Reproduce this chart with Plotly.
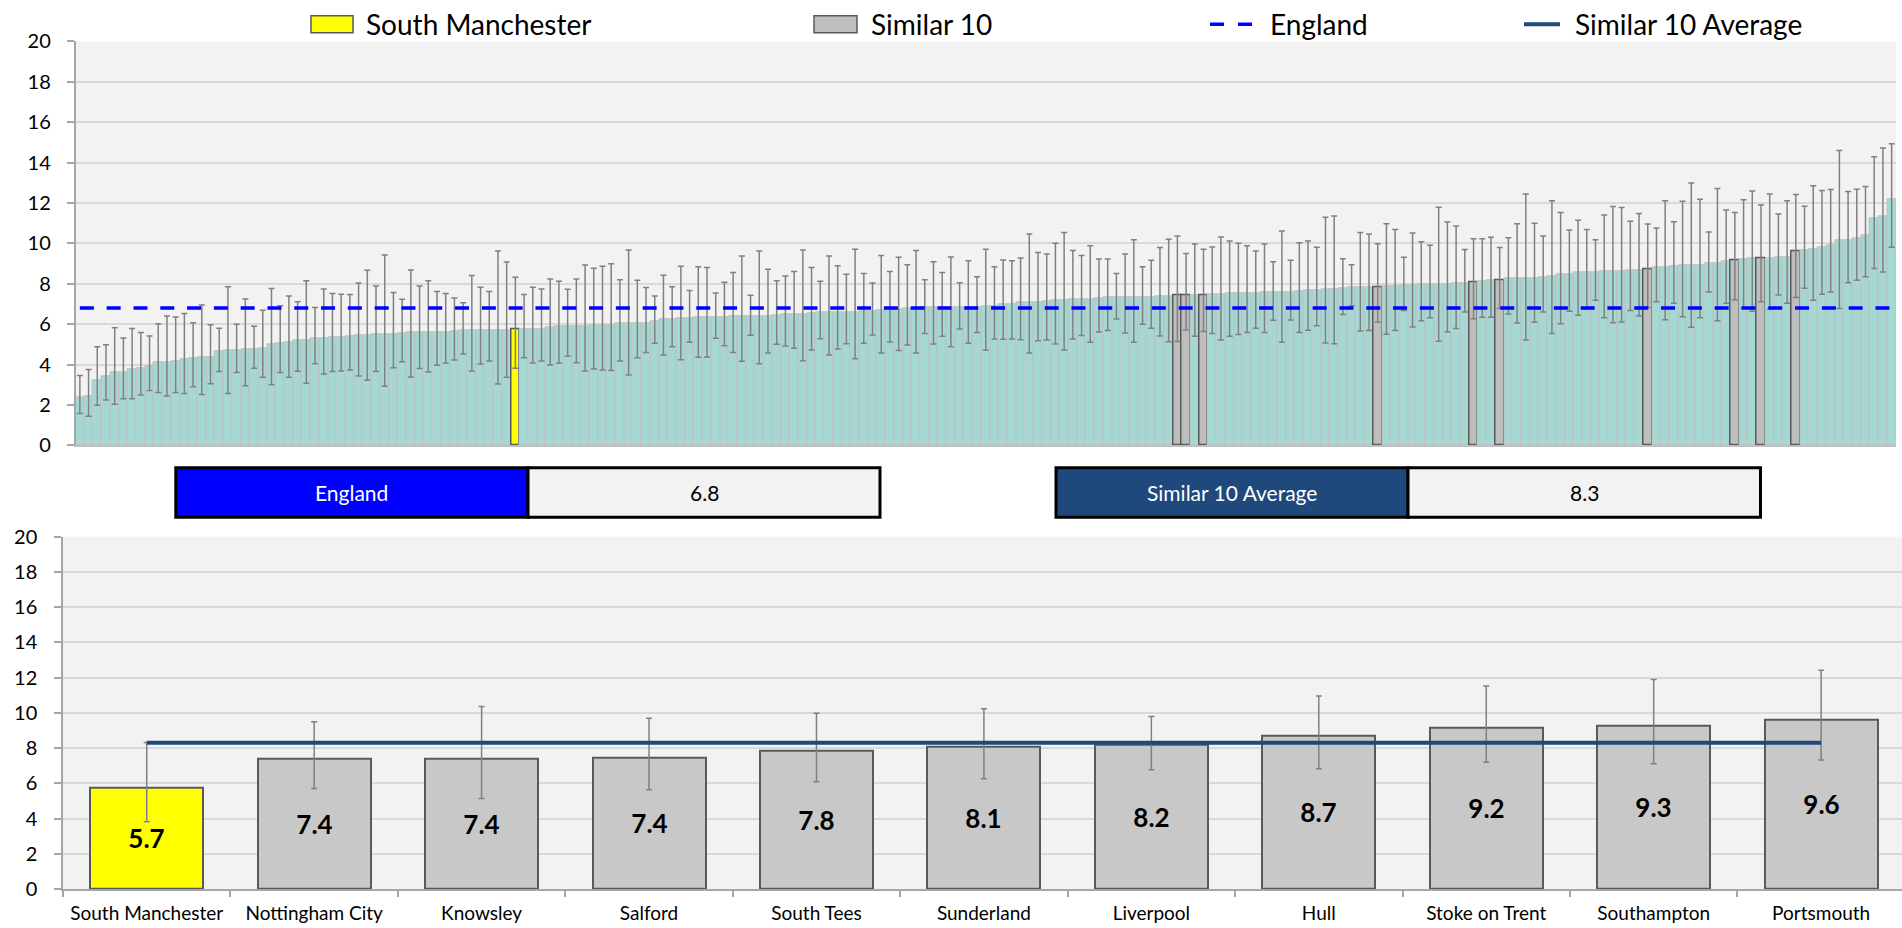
import plotly.graph_objects as go

# ---------------- data ----------------
# Top chart: all areas ranked by value (rate), with 95% confidence limits
top_values = [
    2.38, 2.41, 3.22, 3.43, 3.60, 3.61, 3.78, 3.81, 3.91, 4.09,
    4.09, 4.17, 4.26, 4.31, 4.36, 4.37, 4.64, 4.70, 4.70, 4.75,
    4.75, 4.80, 5.00, 5.07, 5.12, 5.20, 5.20, 5.30, 5.31, 5.33,
    5.35, 5.38, 5.43, 5.46, 5.48, 5.50, 5.51, 5.54, 5.59, 5.59,
    5.59, 5.61, 5.61, 5.63, 5.68, 5.69, 5.69, 5.69, 5.71, 5.71,
    5.73, 5.73, 5.74, 5.76, 5.86, 5.87, 5.89, 5.89, 5.89, 5.92,
    5.94, 5.96, 6.02, 6.04, 6.05, 6.06, 6.16, 6.22, 6.25, 6.29,
    6.30, 6.34, 6.34, 6.35, 6.35, 6.37, 6.37, 6.39, 6.39, 6.40,
    6.44, 6.47, 6.47, 6.50, 6.53, 6.57, 6.58, 6.58, 6.58, 6.60,
    6.63, 6.65, 6.68, 6.70, 6.73, 6.77, 6.78, 6.82, 6.83, 6.83,
    6.83, 6.83, 6.85, 6.85, 6.88, 6.90, 7.00, 7.00, 7.06, 7.06,
    7.10, 7.11, 7.16, 7.19, 7.21, 7.21, 7.21, 7.26, 7.31, 7.31,
    7.31, 7.31, 7.33, 7.34, 7.36, 7.38, 7.41, 7.41, 7.43, 7.44,
    7.46, 7.48, 7.51, 7.51, 7.52, 7.54, 7.56, 7.57, 7.57, 7.57,
    7.61, 7.67, 7.67, 7.72, 7.74, 7.76, 7.81, 7.82, 7.84, 7.84,
    7.87, 7.87, 7.92, 7.94, 7.95, 7.95, 7.97, 7.99, 8.02, 8.04,
    8.07, 8.14, 8.16, 8.18, 8.25, 8.27, 8.27, 8.28, 8.33, 8.37,
    8.45, 8.47, 8.56, 8.56, 8.58, 8.60, 8.61, 8.61, 8.65, 8.67,
    8.70, 8.81, 8.83, 8.86, 8.89, 8.91, 8.91, 9.01, 9.01, 9.09,
    9.16, 9.21, 9.24, 9.26, 9.27, 9.29, 9.31, 9.59, 9.64, 9.72,
    9.80, 9.88, 10.13, 10.15, 10.25, 10.40, 11.25, 11.34, 12.18,
]
top_lower = [
    1.58, 1.44, 1.98, 2.24, 2.03, 2.31, 2.31, 2.49, 2.71, 2.62,
    2.44, 2.61, 2.56, 2.90, 2.51, 3.05, 3.65, 2.56, 3.60, 2.95,
    3.81, 3.37, 3.00, 3.60, 3.37, 3.66, 3.07, 4.04, 3.53, 3.65,
    3.68, 3.73, 3.43, 3.22, 3.65, 2.92, 3.84, 4.14, 3.38, 3.80,
    3.63, 3.96, 4.08, 4.22, 4.52, 3.68, 4.03, 4.17, 3.04, 3.37,
    3.82, 4.34, 4.08, 4.17, 3.98, 4.06, 4.41, 4.09, 3.68, 3.78,
    3.73, 3.70, 4.17, 3.48, 4.34, 4.59, 5.05, 4.47, 4.88, 4.24,
    5.10, 4.36, 4.37, 5.30, 4.93, 4.60, 4.16, 5.45, 4.04, 4.57,
    5.00, 4.92, 4.80, 4.19, 4.72, 5.28, 4.47, 4.77, 5.03, 4.29,
    5.05, 5.46, 4.57, 5.12, 4.69, 4.97, 4.57, 5.53, 5.02, 5.40,
    4.88, 5.76, 5.05, 5.59, 4.70, 5.26, 5.25, 5.26, 5.23, 4.57,
    5.17, 5.21, 5.02, 4.72, 5.26, 5.43, 5.10, 5.61, 5.68, 6.25,
    5.56, 5.10, 5.99, 5.79, 5.41, 5.13, 5.14, 5.71, 5.40, 5.63,
    5.53, 5.21, 5.40, 5.48, 5.58, 5.79, 5.58, 6.19, 5.10, 6.20,
    5.59, 5.69, 5.92, 5.07, 5.03, 6.47, 6.91, 5.66, 5.68, 6.09,
    5.50, 5.68, 6.67, 5.86, 6.17, 6.32, 5.15, 5.61, 5.78, 6.60,
    6.26, 6.34, 6.34, 6.77, 6.50, 6.06, 5.21, 6.09, 6.60, 5.53,
    6.02, 6.63, 6.44, 6.75, 7.18, 6.32, 6.07, 6.11, 6.67, 6.40,
    6.82, 7.11, 6.22, 7.03, 6.37, 5.84, 6.32, 7.59, 6.17, 7.03,
    7.20, 6.78, 6.63, 7.11, 6.75, 7.44, 7.03, 7.32, 7.77, 7.18,
    7.48, 7.59, 6.77, 8.05, 8.17, 8.35, 8.75, 8.58, 9.80,
]
top_upper = [
    3.45, 3.75, 4.88, 4.98, 5.82, 5.31, 5.78, 5.58, 5.41, 6.02,
    6.40, 6.35, 6.53, 6.07, 6.95, 5.97, 5.79, 7.85, 5.99, 7.24,
    5.89, 6.68, 7.76, 6.91, 7.39, 7.11, 8.15, 6.82, 7.74, 7.52,
    7.48, 7.46, 8.04, 8.66, 7.89, 9.42, 7.56, 7.23, 8.68, 7.89,
    8.15, 7.61, 7.51, 7.29, 7.06, 8.40, 7.82, 7.61, 9.62, 9.08,
    8.32, 7.46, 7.82, 7.74, 8.23, 8.12, 7.72, 8.23, 8.93, 8.76,
    8.86, 8.99, 8.20, 9.67, 8.17, 7.81, 7.39, 8.42, 7.85, 8.86,
    7.66, 8.84, 8.80, 7.54, 8.07, 8.56, 9.37, 7.43, 9.62, 8.71,
    8.14, 8.38, 8.61, 9.67, 8.80, 8.12, 9.37, 8.89, 8.47, 9.70,
    8.50, 8.04, 9.39, 8.60, 9.31, 8.94, 9.64, 8.20, 9.09, 8.55,
    9.32, 8.05, 9.14, 8.35, 9.70, 8.84, 9.17, 9.13, 9.27, 10.46,
    9.54, 9.47, 10.00, 10.53, 9.64, 9.39, 9.88, 9.22, 9.22, 8.50,
    9.47, 10.17, 8.84, 9.16, 9.79, 10.20, 10.36, 9.49, 9.97, 9.70,
    9.82, 10.31, 10.12, 10.00, 9.88, 9.62, 9.97, 9.09, 10.61, 9.16,
    10.03, 10.12, 9.80, 11.29, 11.35, 9.24, 8.94, 10.53, 10.46, 9.98,
    10.97, 10.68, 9.31, 10.51, 10.08, 9.90, 11.78, 11.06, 10.86, 9.69,
    10.23, 10.23, 10.30, 9.79, 10.28, 10.97, 12.44, 10.99, 10.36, 12.11,
    11.53, 10.66, 11.14, 10.68, 10.18, 11.40, 11.82, 11.77, 11.09, 11.48,
    10.95, 10.76, 12.11, 11.07, 12.08, 12.99, 12.18, 10.56, 12.71, 11.65,
    11.53, 12.15, 12.59, 11.89, 12.44, 11.45, 12.11, 12.42, 11.83, 12.85,
    12.62, 12.66, 14.59, 12.56, 12.67, 12.81, 14.29, 14.72, 14.93,
]

# Bottom chart: selected area and its 10 most similar areas
areas = ["South Manchester", "Nottingham City", "Knowsley", "Salford", "South Tees",
         "Sunderland", "Liverpool", "Hull", "Stoke on Trent", "Southampton", "Portsmouth"]
area_values = [5.73, 7.41, 7.41, 7.44, 7.84, 8.07, 8.18, 8.70, 9.16, 9.26, 9.59]
area_lower = [3.82, 5.71, 5.14, 5.63, 6.09, 6.26, 6.77, 6.82, 7.20, 7.11, 7.32]
area_upper = [8.32, 9.49, 10.36, 9.70, 9.98, 10.23, 9.79, 10.95, 11.53, 11.89, 12.42]
# rank position of each of these areas in the top chart
area_rank = [50, 127, 126, 129, 149, 160, 163, 180, 190, 193, 197]

england_value = 6.8
similar_avg = sum(area_values[1:]) / len(area_values[1:])

# ---------------- styling ----------------
W, H = 1902, 928
FONT = "Lato, 'Open Sans', sans-serif"
TEAL = "#A5D8D3"
GREY_TOP = "#BEBEBE"
GREY_BOT = "#C8C8C8"
YELLOW = "#FFFF00"
DARK_OUT = "#595959"
ENG_BLUE = "#0000FF"
AVG_BLUE = "#1F497D"
BG = "#F2F2F2"
GRID = "#D9D9D9"
AXIS = "#A6A6A6"
ERR = "#808080"


def px(x):
    return x / W


def py(y):
    return 1 - y / H


n = len(top_values)
ranks = list(range(n))
colors = [TEAL] * n
line_cols = ["#BFBFBF"] * n
line_w = [1] * n
for k, r in enumerate(area_rank):
    colors[r] = YELLOW if k == 0 else GREY_TOP
    line_cols[r] = DARK_OUT
    line_w[r] = 1.5

fig = go.Figure()

# ---- top chart ----
fig.add_trace(go.Bar(
    x=ranks, y=top_values, xaxis="x", yaxis="y",
    marker=dict(color=colors, line=dict(color=line_cols, width=line_w)),
    error_y=dict(type="data", symmetric=False,
                 array=[u - v for u, v in zip(top_upper, top_values)],
                 arrayminus=[v - l for v, l in zip(top_values, top_lower)],
                 color=ERR, thickness=1.5, width=3),
    showlegend=False, hoverinfo="skip",
))
fig.add_trace(go.Scatter(
    x=ranks, y=[england_value] * n, xaxis="x", yaxis="y", mode="lines",
    line=dict(color=ENG_BLUE, width=3.5, dash="14px,12.8px"),
    showlegend=False, hoverinfo="skip",
))

# ---- bottom chart ----
fig.add_trace(go.Bar(
    x=areas, y=area_values, xaxis="x2", yaxis="y2", width=0.675,
    marker=dict(color=[YELLOW] + [GREY_BOT] * (len(areas) - 1),
                line=dict(color=DARK_OUT, width=2)),
    error_y=dict(type="data", symmetric=False,
                 array=[u - v for u, v in zip(area_upper, area_values)],
                 arrayminus=[v - l for v, l in zip(area_values, area_lower)],
                 color=ERR, thickness=1.5, width=3),
    texttemplate="%{y:.1f}", textposition="inside", insidetextanchor="middle",
    textangle=0,
    textfont=dict(family=FONT, size=26, color="black", weight="bold"),
    showlegend=False, hoverinfo="skip",
))
fig.add_trace(go.Scatter(
    x=areas, y=[similar_avg] * len(areas), xaxis="x2", yaxis="y2", mode="lines",
    line=dict(color=AVG_BLUE, width=4),
    showlegend=False, hoverinfo="skip",
))

yaxis_common = dict(range=[0, 20], dtick=2, showgrid=True, gridcolor=GRID, gridwidth=1.5,
                    showline=True, linecolor=AXIS, linewidth=1.5, ticks="outside",
                    ticklen=7, tickcolor=AXIS, tickwidth=1.5,
                    tickfont=dict(family=FONT, size=20, color="black"),
                    zeroline=False, fixedrange=True, automargin=False)

fig.update_layout(
    template="none",
    width=W, height=H, margin=dict(l=0, r=0, t=0, b=0, pad=0), autosize=False,
    paper_bgcolor="white", plot_bgcolor=BG,
    barmode="overlay", bargap=0,
    font=dict(family=FONT, color="black"),
    xaxis=dict(domain=[px(75.5), px(1896)], range=[-0.5, n - 0.5],
               showticklabels=False, ticks="", showgrid=False, zeroline=False,
               showline=True, linecolor="#BFBFBF", linewidth=1.5, automargin=False,
               fixedrange=True),
    yaxis=dict(domain=[py(445.3), py(41.3)], anchor="x", ticklabelstandoff=12, **yaxis_common),
    xaxis2=dict(domain=[px(63), 1.0], range=[-0.5, len(areas) - 0.5 - 0.017],
                type="category", anchor="y2", tickson="boundaries", ticks="outside",
                ticklen=6, tickcolor=AXIS, tickwidth=1.5, showgrid=False,
                showline=True, linecolor=AXIS, linewidth=1.5, zeroline=False,
                tickfont=dict(family=FONT, size=19, color="black"),
                ticklabelstandoff=6, automargin=False, fixedrange=True),
    yaxis2=dict(domain=[py(889), py(536.7)], anchor="x2", ticklabelstandoff=13, **yaxis_common),
)

shapes = []
annotations = []

# ---- legend (drawn manually) ----
leg_y0, leg_y1 = 15.7, 32.7
leg_mid = 24.2
shapes.append(dict(type="rect", xref="paper", yref="paper", x0=px(311), x1=px(353),
                   y0=py(leg_y1), y1=py(leg_y0), fillcolor=YELLOW,
                   line=dict(color=DARK_OUT, width=1.5)))
shapes.append(dict(type="rect", xref="paper", yref="paper", x0=px(814), x1=px(857),
                   y0=py(leg_y1), y1=py(leg_y0), fillcolor=GREY_TOP,
                   line=dict(color=DARK_OUT, width=1.5)))
shapes.append(dict(type="line", xref="paper", yref="paper", x0=px(1210), x1=px(1253),
                   y0=py(leg_mid), y1=py(leg_mid),
                   line=dict(color=ENG_BLUE, width=3.5, dash="14px,14px")))
shapes.append(dict(type="line", xref="paper", yref="paper", x0=px(1524), x1=px(1560),
                   y0=py(leg_mid), y1=py(leg_mid),
                   line=dict(color=AVG_BLUE, width=4)))
for label, x in [("South Manchester", 364), ("Similar 10", 869),
                 ("England", 1268), ("Similar 10 Average", 1573)]:
    annotations.append(dict(text=label, xref="paper", yref="paper", x=px(x), y=py(leg_mid),
                            xanchor="left", yanchor="middle", showarrow=False,
                            font=dict(family=FONT, size=28, color="black")))

# ---- summary boxes ----
box_top, box_bot = 467.7, 517.3
for (label, val, fill, x0, xm, x1) in [
    ("England", england_value, ENG_BLUE, 175.8, 528, 880),
    ("Similar 10 Average", similar_avg, AVG_BLUE, 1056, 1408, 1760.5),
]:
    shapes.append(dict(type="rect", xref="paper", yref="paper", x0=px(x0), x1=px(xm),
                       y0=py(box_bot), y1=py(box_top), fillcolor=fill,
                       line=dict(color="black", width=3)))
    shapes.append(dict(type="rect", xref="paper", yref="paper", x0=px(xm), x1=px(x1),
                       y0=py(box_bot), y1=py(box_top), fillcolor=BG,
                       line=dict(color="black", width=3)))
    annotations.append(dict(text=label, xref="paper", yref="paper", x=px((x0 + xm) / 2),
                            y=py((box_top + box_bot) / 2), xanchor="center", yanchor="middle",
                            showarrow=False, font=dict(family=FONT, size=21, color="white")))
    annotations.append(dict(text=f"{val:.1f}", xref="paper", yref="paper", x=px((xm + x1) / 2),
                            y=py((box_top + box_bot) / 2), xanchor="center", yanchor="middle",
                            showarrow=False, font=dict(family=FONT, size=21, color="black")))

fig.update_layout(shapes=shapes, annotations=annotations)

fig.write_html("out.html", config={"displayModeBar": False, "responsive": False},
               post_script="document.body.style.margin='0px';document.body.style.overflow='hidden';")
